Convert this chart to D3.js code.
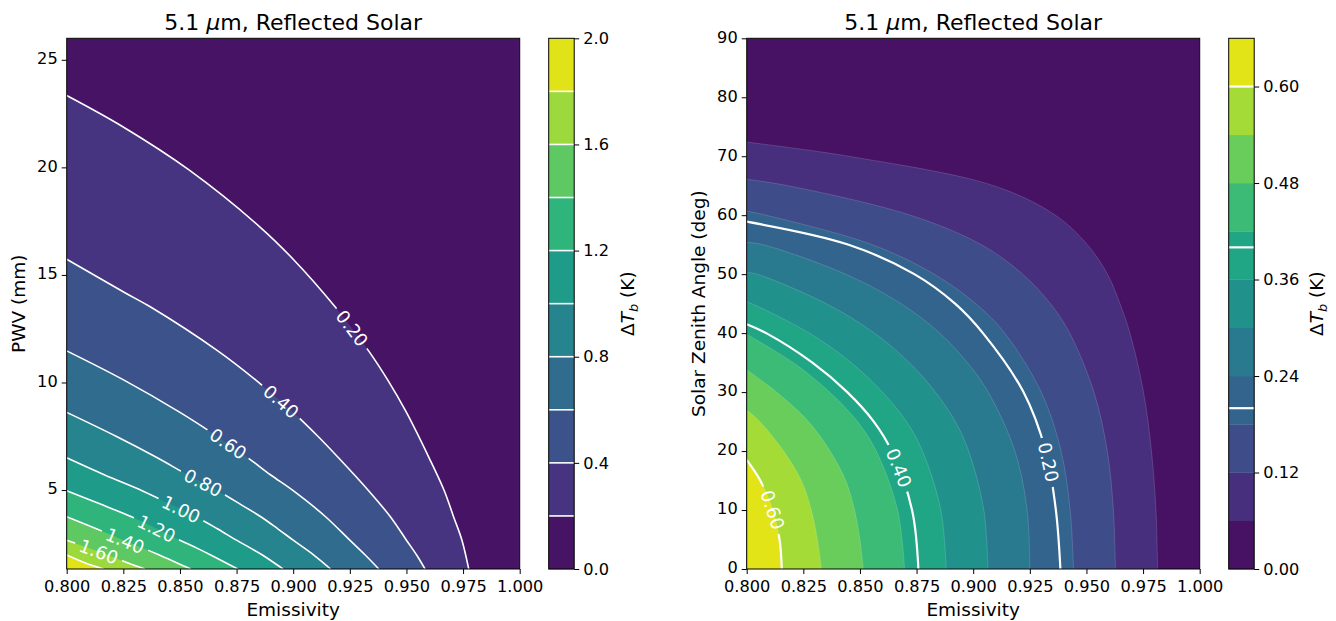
<!DOCTYPE html>
<html><head><meta charset="utf-8">
<script src="https://cdn.jsdelivr.net/npm/d3@7"></script>
<style>
body{margin:0;background:#fff}
svg{display:block}
text{font-family:"DejaVu Sans",sans-serif}
</style>
</head><body>
<svg id="chart" width="1336" height="621"></svg>
<script>
// ---------------- data ----------------
const emissivityRange = [0.8, 1.0];
const emissivityTicks = [0.8, 0.825, 0.85, 0.875, 0.9, 0.925, 0.95, 0.975, 1.0];
const pwvRange = [1.33, 26.0];
const pwvTicks = [5, 10, 15, 20, 25];
const szaRange = [0, 90];
const szaTicks = [0, 10, 20, 30, 40, 50, 60, 70, 80, 90];

const pwvLevels = [0, 0.2, 0.4, 0.6, 0.8, 1.0, 1.2, 1.4, 1.6, 1.8, 2.0];
const pwvCbarTicks = [0, 0.4, 0.8, 1.2, 1.6, 2.0];
const szaLevels = [0, 0.06, 0.12, 0.18, 0.24, 0.30, 0.36, 0.42, 0.48, 0.54, 0.60, 0.66];
const szaCbarTicks = [0, 0.12, 0.24, 0.36, 0.48, 0.60];
const szaLineLevels = [0.2, 0.4, 0.6];

// left panel contour lines: [emissivity, PWV mm]
const pwv_020 = [[0.8,23.34],[0.8246,21.9],[0.854,19.88],[0.8851,17.25],[0.9,15.73],[0.9184,13.53],[0.9333,11.47],[0.9417,10.12],[0.95,8.61],[0.96,6.5],[0.9667,4.97],[0.9708,3.76],[0.9745,2.67],[0.9775,1.33]];
const pwv_040 = [[0.8,15.73],[0.8261,14.15],[0.8367,13.53],[0.8667,11.47],[0.8834,10.12],[0.9,8.61],[0.9109,7.5],[0.92,6.5],[0.9333,4.97],[0.9429,3.76],[0.95,2.67],[0.9545,1.98],[0.9582,1.33]];
const pwv_060 = [[0.8,11.47],[0.8251,10.12],[0.85,8.61],[0.8664,7.5],[0.88,6.5],[0.8901,5.7],[0.9,4.97],[0.9143,3.76],[0.925,2.67],[0.9318,1.98],[0.9378,1.33]];
const pwv_080 = [[0.8,8.61],[0.8218,7.5],[0.84,6.5],[0.8535,5.7],[0.8667,4.97],[0.8773,4.3],[0.8857,3.76],[0.8932,3.2],[0.9,2.67],[0.9091,1.98],[0.9165,1.33]];
const pwv_100 = [[0.8,6.5],[0.8168,5.7],[0.8333,4.97],[0.8466,4.3],[0.8571,3.76],[0.8665,3.2],[0.875,2.67],[0.8812,2.3],[0.8864,1.98],[0.8955,1.33]];
const pwv_120 = [[0.8,4.97],[0.816,4.3],[0.8286,3.76],[0.8398,3.2],[0.85,2.67],[0.8575,2.3],[0.8636,1.98],[0.8755,1.33]];
const pwv_140 = [[0.8,3.76],[0.8131,3.2],[0.825,2.67],[0.8337,2.3],[0.8409,1.98],[0.849,1.6],[0.8548,1.33]];
const pwv_160 = [[0.8,2.67],[0.81,2.3],[0.8182,1.98],[0.8274,1.6],[0.8345,1.33]];
const pwv_180 = [[0.8,1.98],[0.8085,1.6],[0.8163,1.33]];
// label anchors: [level, emissivity, PWV]
const pwvLabels = [[0.2,0.9252,12.44],[0.4,0.8925,8.86],[0.6,0.8704,7.0],[0.8,0.8598,5.23],[1.0,0.85,3.98],[1.2,0.8398,3.23],[1.4,0.8258,2.67],[1.6,0.8147,2.3]];

// right panel contours: [emissivity, solar zenith angle deg]
const sza_006 = [[0.8,72.4],[0.845,70],[0.9091,65],[0.9363,60],[0.9504,55],[0.9593,50],[0.9648,45],[0.9692,40],[0.9752,30],[0.9787,20],[0.9807,10],[0.9814,0]];
const sza_012 = [[0.8,66.1],[0.8182,65],[0.8723,60],[0.9036,55],[0.9218,50],[0.9341,45],[0.9426,40],[0.9533,30],[0.9592,20],[0.9619,10],[0.9628,0]];
const sza_018 = [[0.8,60.7],[0.8085,60],[0.8554,55],[0.8827,50],[0.9011,45],[0.9139,40],[0.930,30],[0.9388,20],[0.9428,10],[0.9443,0]];
const sza_020 = [[0.8,58.9],[0.845,55],[0.874,50],[0.892,45],[0.9043,40],[0.9222,30],[0.932,20],[0.9365,10],[0.9385,0]];
const sza_024 = [[0.8,55.4],[0.8072,55],[0.8436,50],[0.8681,45],[0.8852,40],[0.8974,35],[0.9066,30],[0.9184,20],[0.9238,10],[0.925,0]];
const sza_030 = [[0.8,50.3],[0.8045,50],[0.8351,45],[0.8564,40],[0.8718,35],[0.8833,30],[0.8921,25],[0.898,20],[0.9047,10],[0.9065,0]];
const sza_036 = [[0.8,45.3],[0.8022,45],[0.8277,40],[0.8461,35],[0.8599,30],[0.8705,25],[0.8776,20],[0.8857,10],[0.8881,0]];
const sza_040 = [[0.8,41.5],[0.8086,40],[0.829,35],[0.8444,30],[0.8561,25],[0.864,20],[0.873,10],[0.8758,0]];
const sza_042 = [[0.8,39.8],[0.8205,35],[0.8366,30],[0.8489,25],[0.8572,20],[0.8666,10],[0.8697,0]];
const sza_048 = [[0.8,33.8],[0.8132,30],[0.8273,25],[0.8368,20],[0.8437,15],[0.8476,10],[0.850,5],[0.8515,0]];
const sza_054 = [[0.8,27.0],[0.8058,25],[0.8163,20],[0.8241,15],[0.8285,10],[0.8312,5],[0.833,0]];
const sza_060 = [[0.8,18.5],[0.806,15],[0.8115,10],[0.8145,5],[0.8155,0]];
const szaLabels = [[0.6,0.8113,10],[0.4,0.8678,17.2],[0.2,0.9319,18]];

// ---------------- drawing ----------------
const svg = d3.select("#chart");
const TOP = 38.3, BOT = 569, W = 453;
const FONT_TICK = 16.2, FONT_LAB = 18.5, FONT_TITLE = 22, FONT_CL = 18;

function panel(cfg) {
  const x = d3.scaleLinear().domain(emissivityRange).range([cfg.x0, cfg.x0 + W]);
  const y = d3.scaleLinear().domain(cfg.yRange).range([BOT, TOP]);
  const nb = cfg.levels.length - 1;
  const color = i => d3.interpolateViridis((i + 0.5) / nb);
  const g = svg.append("g");
  const clipId = "clip" + cfg.id;
  g.append("clipPath").attr("id", clipId).append("rect")
    .attr("x", x(emissivityRange[0])).attr("y", TOP)
    .attr("width", x(emissivityRange[1]) - x(emissivityRange[0])).attr("height", BOT - TOP);
  const plot = g.append("g").attr("clip-path", `url(#${clipId})`);
  plot.append("rect").attr("x", x(emissivityRange[0])).attr("y", TOP)
    .attr("width", x(emissivityRange[1]) - x(emissivityRange[0])).attr("height", BOT - TOP)
    .attr("fill", color(0));
  const line = d3.line().x(d => x(d[0])).y(d => y(d[1])).curve(d3.curveCatmullRom.alpha(0.5));
  const corner = [x(emissivityRange[0]), y(cfg.yRange[0])];
  cfg.fills.forEach((pts, i) => {
    plot.append("path")
      .attr("d", line(pts) + `L${corner[0]},${corner[1]}Z`)
      .attr("fill", color(i + 1))
      .attr("stroke", cfg.seam ? "rgba(255,255,255,0.22)" : "none")
      .attr("stroke-width", 0.7);
  });
  // contour lines with label gaps
  const maskId = "mask" + cfg.id;
  const mask = g.append("mask").attr("id", maskId).attr("maskUnits", "userSpaceOnUse")
    .attr("x", 0).attr("y", 0).attr("width", 1336).attr("height", 621);
  mask.append("rect").attr("x", 0).attr("y", 0).attr("width", 1336).attr("height", 621).attr("fill", "white");
  const lines = plot.append("g").attr("mask", `url(#${maskId})`);
  const pathByLevel = new Map();
  cfg.lines.forEach(([lvl, pts]) => {
    const p = lines.append("path").attr("d", line(pts)).attr("fill", "none")
      .attr("stroke", "white").attr("stroke-width", cfg.lineWidth);
    pathByLevel.set(lvl, p.node());
  });
  const labG = plot.append("g");
  cfg.labels.forEach(([lvl, ex, ey]) => {
    const node = pathByLevel.get(lvl);
    const L = node.getTotalLength();
    const tx = x(ex), ty = y(ey);
    let best = 0, bd = Infinity;
    for (let s = 0; s <= L; s += 0.5) {
      const p = node.getPointAtLength(s);
      const d = (p.x - tx) ** 2 + (p.y - ty) ** 2;
      if (d < bd) { bd = d; best = s; }
    }
    const p = node.getPointAtLength(best);
    const p1 = node.getPointAtLength(Math.max(0, best - 7));
    const p2 = node.getPointAtLength(Math.min(L, best + 7));
    let ang = Math.atan2(p2.y - p1.y, p2.x - p1.x) * 180 / Math.PI;
    if (ang > 90) ang -= 180;
    if (ang < -90) ang += 180;
    const t = labG.append("text")
      .attr("transform", `translate(${p.x},${p.y}) rotate(${ang})`)
      .attr("text-anchor", "middle").attr("dominant-baseline", "central")
      .attr("fill", "white").attr("font-size", FONT_CL)
      .text(cfg.labelFmt(lvl));
    const tw = t.node().getComputedTextLength();
    mask.append("rect")
      .attr("transform", `translate(${p.x},${p.y}) rotate(${ang})`)
      .attr("x", -tw / 2 - 5).attr("y", -9).attr("width", tw + 10).attr("height", 18)
      .attr("fill", "black");
  });
  // frame
  g.append("rect").attr("x", x(emissivityRange[0])).attr("y", TOP)
    .attr("width", x(emissivityRange[1]) - x(emissivityRange[0])).attr("height", BOT - TOP)
    .attr("fill", "none").attr("stroke", "black").attr("stroke-width", 1);
  // axes
  const ax = g.append("g").attr("transform", `translate(0,${BOT})`)
    .call(d3.axisBottom(x).tickValues(emissivityTicks).tickFormat(d3.format(".3f")).tickSize(5).tickPadding(6.5));
  const ay = g.append("g").attr("transform", `translate(${x(emissivityRange[0])},0)`)
    .call(d3.axisLeft(y).tickValues(cfg.yTicks).tickFormat(d3.format("d")).tickSize(5).tickPadding(4));
  [ax, ay].forEach(a => {
    a.select(".domain").remove();
    a.selectAll("text").attr("font-size", FONT_TICK).attr("font-family", "DejaVu Sans").attr("fill", "#000");
    a.selectAll("line").attr("stroke", "#000");
  });
  ay.selectAll("text").attr("dy", "0.24em");
  const cx = x(0.9);
  g.append("text").attr("x", cx).attr("y", 616).attr("text-anchor", "middle")
    .attr("font-size", FONT_LAB).text("Emissivity");
  g.append("text").attr("transform", `translate(${cfg.x0 - 42},${(TOP + BOT) / 2}) rotate(-90)`)
    .attr("text-anchor", "middle").attr("font-size", FONT_LAB).text(cfg.yLabel);
  const title = g.append("text").attr("x", cx).attr("y", 29.5).attr("text-anchor", "middle").attr("font-size", FONT_TITLE);
  title.append("tspan").text("5.1 ");
  title.append("tspan").attr("font-style", "italic").text("\u03bc");
  title.append("tspan").text("m, Reflected Solar");
  // colorbar
  const cb0 = cfg.x0 + W + 29, cbw = 25.5;
  const cy = d3.scaleLinear().domain([cfg.levels[0], cfg.levels[nb]]).range([BOT, TOP]);
  const cb = g.append("g");
  for (let i = 0; i < nb; i++) {
    cb.append("rect").attr("x", cb0).attr("y", cy(cfg.levels[i + 1]))
      .attr("width", cbw).attr("height", cy(cfg.levels[i]) - cy(cfg.levels[i + 1]) + 0.3)
      .attr("fill", color(i));
  }
  cfg.lines.forEach(([lvl]) => {
    cb.append("line").attr("x1", cb0).attr("x2", cb0 + cbw).attr("y1", cy(lvl)).attr("y2", cy(lvl))
      .attr("stroke", "white").attr("stroke-width", cfg.lineWidth);
  });
  cb.append("rect").attr("x", cb0).attr("y", TOP).attr("width", cbw).attr("height", BOT - TOP)
    .attr("fill", "none").attr("stroke", "black").attr("stroke-width", 1);
  const ac = cb.append("g").attr("transform", `translate(${cb0 + cbw},0)`)
    .call(d3.axisRight(cy).tickValues(cfg.cbarTicks).tickFormat(d3.format(cfg.cbarFmt)).tickSize(5).tickPadding(4));
  ac.select(".domain").remove();
  ac.selectAll("text").attr("font-size", FONT_TICK).attr("font-family", "DejaVu Sans").attr("fill", "#000");
  ac.selectAll("line").attr("stroke", "#000");
  const cl = g.append("text").attr("transform", `translate(${cb0 + cbw + cfg.cbarLabelOff},${(TOP + BOT) / 2}) rotate(-90)`)
    .attr("text-anchor", "middle").attr("font-size", FONT_LAB);
  cl.append("tspan").text("\u0394");
  cl.append("tspan").attr("font-style", "italic").text("T");
  cl.append("tspan").attr("font-style", "italic").attr("font-size", FONT_LAB * 0.7).attr("dy", 4).text("b");
  cl.append("tspan").attr("dy", -4).text(" (K)");
}

const pwvFills = [pwv_020, pwv_040, pwv_060, pwv_080, pwv_100, pwv_120, pwv_140, pwv_160, pwv_180];
panel({
  id: "L", x0: 66.7, yRange: pwvRange, yTicks: pwvTicks, yLabel: "PWV (mm)",
  levels: pwvLevels, fills: pwvFills,
  lines: pwvFills.map((pts, i) => [pwvLevels[i + 1], pts]),
  labels: pwvLabels, labelFmt: d3.format(".2f"), lineWidth: 1.6, seam: false,
  cbarTicks: pwvCbarTicks, cbarFmt: ".1f", cbarLabelOff: 60
});
panel({
  id: "R", x0: 746.7, yRange: szaRange, yTicks: szaTicks, yLabel: "Solar Zenith Angle (deg)",
  levels: szaLevels,
  fills: [sza_006, sza_012, sza_018, sza_024, sza_030, sza_036, sza_042, sza_048, sza_054, sza_060],
  lines: [[szaLineLevels[0], sza_020], [szaLineLevels[1], sza_040], [szaLineLevels[2], sza_060]],
  labels: szaLabels, labelFmt: d3.format(".2f"), lineWidth: 2.2, seam: true,
  cbarTicks: szaCbarTicks, cbarFmt: ".2f", cbarLabelOff: 69
});
</script>
</body></html>
